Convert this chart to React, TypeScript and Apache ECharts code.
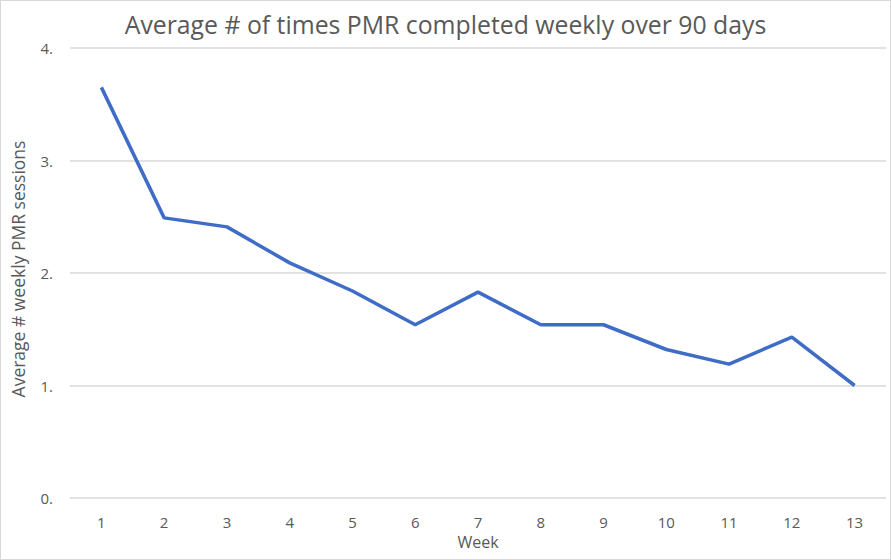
import React, { useEffect, useRef } from "react";
import * as echarts from "echarts";

const weeks = ["1", "2", "3", "4", "5", "6", "7", "8", "9", "10", "11", "12", "13"];
const avgSessions = [3.65, 2.49, 2.41, 2.09, 1.84, 1.54, 1.83, 1.54, 1.54, 1.32, 1.19, 1.43, 1.0];
const titleText = "Average # of times PMR completed weekly over 90 days";
const yAxisName = "Average # weekly PMR sessions";
const xAxisName = "Week";

export default function App() {
  const ref = useRef<HTMLDivElement>(null);
  useEffect(() => {
    document.body.style.margin = "0";
    const chart = echarts.init(ref.current!, null, { renderer: "svg" });
    const font = "Open Sans";
    chart.setOption({
      animation: false,
      backgroundColor: "#ffffff",
      title: {
        text: titleText,
        left: "center",
        top: 5,
        textStyle: { fontFamily: font, fontSize: 24.8, fontWeight: "normal", color: "#595959" },
      },
      grid: { left: 61, right: 4, top: 47, bottom: 61, containLabel: false },
      xAxis: {
        type: "category",
        data: weeks,
        boundaryGap: true,
        name: xAxisName,
        nameLocation: "middle",
        nameGap: 36,
        nameTextStyle: { fontFamily: font, fontSize: 16, color: "#595959" },
        axisLine: { show: false },
        axisTick: { show: false },
        axisLabel: { fontFamily: font, fontSize: 15, color: "#595959", margin: 16 },
      },
      yAxis: {
        type: "value",
        min: 0,
        max: 4,
        interval: 1,
        name: yAxisName,
        nameLocation: "middle",
        nameGap: 43,
        nameTextStyle: { fontFamily: font, fontSize: 17.5, color: "#595959", padding: [0, 0, 0, 8] },
        axisLabel: {
          fontFamily: font,
          fontSize: 15,
          color: "#595959",
          margin: 17,
          formatter: (v: number) => v + ".",
        },
        splitLine: { lineStyle: { color: "#d9d9d9", width: 1.5 } },
      },
      series: [
        {
          type: "line",
          data: avgSessions,
          symbol: "none",
          lineStyle: { color: "#3E6CC6", width: 3.5 },
        },
      ],
    });
    return () => chart.dispose();
  }, []);
  return (
    <div
      style={{
        position: "absolute",
        left: 0,
        top: 0,
        width: 891,
        height: 560,
        boxSizing: "border-box",
        border: "1px solid #d9d9d9",
      }}
    >
      <div ref={ref} style={{ width: 889, height: 558 }} />
    </div>
  );
}
